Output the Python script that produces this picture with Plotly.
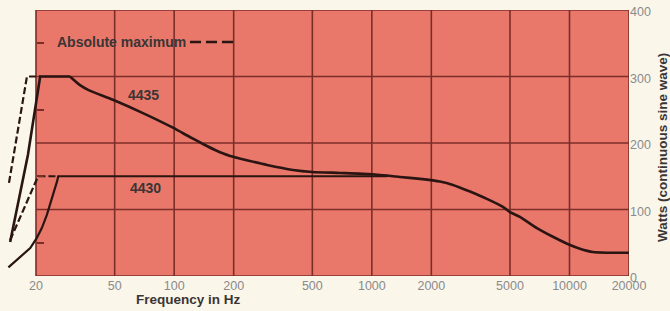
import numpy as np
import plotly.graph_objects as go

# ---------------- data ----------------
freq_ticks = [20, 50, 100, 200, 500, 1000, 2000, 5000, 10000, 20000]
freq_labels = ["20", "50", "100", "200", "500", "1000", "2000", "5000", "10000", "20000"]
watt_ticks = [0, 100, 200, 300, 400]
watt_labels = ["0", "100", "200", "300", "400"]
minor_watt_ticks = [50, 150, 250, 350]

# 4435 continuous power (solid): low-frequency ramp + plateau
f4435_low = [14.8, 18.2, 21.0, 29.7]
w4435_low = [51, 182, 300, 300]
# 4435 continuous power (solid): roll-off above the plateau
f4435 = [29.7, 33.4, 36.7, 49, 69.5, 98.6, 120, 140, 161, 192, 242, 295, 399, 500,
         690, 1000, 1388, 1752, 2210, 2572, 3137, 3820, 4604, 5000, 5612, 6843, 8240,
         10000, 11290, 13127, 15460, 20000]
w4435 = [300, 287, 280, 265, 245, 223, 209, 198.5, 189.5, 180.5, 173, 167, 159.5, 156.5,
         155, 153, 149, 146, 142, 137, 127, 116, 104, 96, 89, 72, 59,
         47, 41, 36, 35, 35]

# 4430 continuous power (solid)
f4430 = [14.5, 16.6, 18.7, 20.16, 21.4, 22.7, 24.0, 25.0, 25.6, 25.9, 1200]
w4430 = [13, 28, 42, 57, 72, 92, 114, 132, 143, 150, 150]

# absolute maximum (dashed)
f4435_max = [14.6, 18.0, 21.0]
w4435_max = [140, 300, 300]
f4430_max = [14.8, 20.5, 25.9]
w4430_max = [54, 150, 150]

# ---------------- style ----------------
CREAM = "#FAF6EA"
SALMON = "#E9786B"
GRID = "#7C2D28"
CURVE = "#2B1512"
TICKC = "#8A8A8A"
TEXTC = "#3A3535"

x_lo = np.log10(20) - 32 / 197.67
x_hi = np.log10(20000)
x_range = [x_lo, x_hi]

def xpaper(f):
    return (np.log10(f) - x_lo) / (x_hi - x_lo)

fig = go.Figure()

# grid lines (from tick arrays)
gx, gy = [], []
for f in freq_ticks:
    gx += [f, f, None]
    gy += [0, 400, None]
for w in watt_ticks:
    gx += [20, 20000, None]
    gy += [w, w, None]
fig.add_trace(go.Scatter(x=gx, y=gy, mode="lines",
                         line=dict(color=GRID, width=1.6),
                         hoverinfo="skip", showlegend=False))

dash = "7px,3px"
fig.add_trace(go.Scatter(x=f4435_max, y=w4435_max, mode="lines",
                         line=dict(color=CURVE, width=2.2, dash=dash), showlegend=False))
fig.add_trace(go.Scatter(x=f4430_max, y=w4430_max, mode="lines",
                         line=dict(color=CURVE, width=2.2, dash=dash), showlegend=False))
fig.add_trace(go.Scatter(x=f4435_low, y=w4435_low, mode="lines",
                         line=dict(color=CURVE, width=2.6), showlegend=False))
fig.add_trace(go.Scatter(x=f4435, y=w4435, mode="lines",
                         line=dict(color=CURVE, width=2.6, shape="spline", smoothing=0.6),
                         showlegend=False))
fig.add_trace(go.Scatter(x=f4430, y=w4430, mode="lines",
                         line=dict(color=CURVE, width=2.2), showlegend=False))

# salmon chart field
fig.add_shape(type="rect", xref="paper", yref="paper",
              x0=xpaper(20), x1=xpaper(20000), y0=0, y1=1,
              fillcolor=SALMON, line=dict(width=0), layer="below")

# legend dashes for "Absolute maximum"
fig.add_shape(type="line", xref="paper", yref="paper",
              x0=(190 - 4) / 625, x1=(233 - 4) / 625,
              y0=(276 - 42) / 266, y1=(276 - 42) / 266,
              line=dict(color=CURVE, width=2.4, dash="11px,5px"), layer="above")

fig.add_annotation(text="<b>Absolute maximum</b>", xref="paper", yref="paper",
                   x=(55 - 4) / 625, y=(276 - 42) / 266, xanchor="left", yanchor="middle",
                   showarrow=False, font=dict(family="Liberation Sans", size=14, color=TEXTC))
fig.add_annotation(text="<b>4435</b>", x=np.log10(70), y=272, xref="x", yref="y",
                   showarrow=False, font=dict(family="Liberation Sans", size=14, color=TEXTC))
fig.add_annotation(text="<b>4430</b>", x=np.log10(72), y=132, xref="x", yref="y",
                   showarrow=False, font=dict(family="Liberation Sans", size=14, color=TEXTC))
fig.add_annotation(text="<b>Frequency in Hz</b>", xref="paper", yref="paper",
                   x=(188.5 - 4) / 625, y=(276 - 299) / 266, xanchor="center", yanchor="middle",
                   showarrow=False, font=dict(family="Liberation Sans", size=13.5, color=TEXTC))
fig.add_annotation(text="<b>Watts (continuous sine wave)</b>", xref="paper", yref="paper",
                   x=(662 - 4) / 625, y=(276 - 148) / 266, xanchor="center", yanchor="middle",
                   textangle=-90, showarrow=False,
                   font=dict(family="Liberation Sans", size=13.5, color=TEXTC))

fig.update_layout(
    width=670, height=311,
    margin=dict(l=4, r=41, t=10, b=35),
    paper_bgcolor=CREAM, plot_bgcolor=CREAM,
    showlegend=False,
    xaxis=dict(type="log", range=x_range, tickvals=freq_ticks, ticktext=freq_labels,
               showgrid=False, zeroline=False, showline=False, ticks="",
               tickfont=dict(family="Liberation Sans", size=12.5, color=TICKC)),
    yaxis=dict(range=[0, 400], side="right", tickvals=watt_ticks, ticktext=watt_labels,
               showgrid=False, zeroline=False, showline=False, ticks="",
               ticklabelshift=2,
               tickfont=dict(family="Liberation Sans", size=12.5, color=TICKC)),
    yaxis2=dict(range=[0, 400], overlaying="y", anchor="free", side="left",
                position=float(xpaper(20)), tickvals=minor_watt_ticks,
                ticks="inside", ticklen=7, tickwidth=1.6, tickcolor=GRID,
                showticklabels=False, showgrid=False, zeroline=False, showline=False),
)
# dummy trace to activate yaxis2
fig.add_trace(go.Scatter(x=[20], y=[0], yaxis="y2", mode="markers",
                         marker=dict(opacity=0), hoverinfo="skip", showlegend=False))

fig.write_html("out.html",
               config={"displayModeBar": False},
               post_script="document.body.style.margin='0';"
                           "document.body.style.background='" + CREAM + "';")
